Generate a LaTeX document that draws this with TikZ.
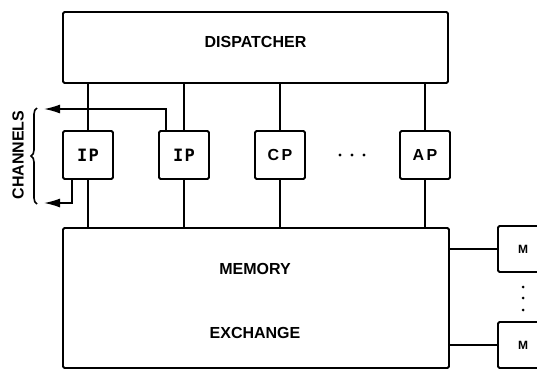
\documentclass[tikz,border=0pt]{standalone}
\usepackage{fontspec}
\setmainfont{Liberation Sans}
\newfontfamily\monofont{DejaVu Sans Mono}
\usetikzlibrary{arrows.meta,decorations.pathreplacing,calc}
\tikzset{
  box/.style={draw, line width=1.9pt, rounded corners=1.5pt, inner sep=0pt},
  proc/.style={box, minimum width=50pt, minimum height=48pt, font=\monofont\bfseries\fontsize{17}{17}\selectfont},
  mbox/.style={box, minimum width=50pt, minimum height=46pt, font=\bfseries\fontsize{12}{12}\selectfont},
  lbl/.style={font=\bfseries\fontsize{16}{16}\selectfont, inner sep=0pt},
  wire/.style={line width=1.5pt},
  chan/.style={wire, -{Latex[length=16pt,width=9pt]}},
  dot/.style={fill, circle, inner sep=0pt, minimum size=3.4pt}
}
\begin{document}
\begin{tikzpicture}[x=1pt,y=-1pt]
\useasboundingbox (0,0) rectangle (537,370);
\clip (0,0) rectangle (537,370);
% main boxes
\node[box, minimum width=385pt, minimum height=71pt] (disp) at (255.5,47.5) {};
\node[lbl] (disptxt) at (255.5,42) {DISPATCHER};
\node[box, minimum width=386pt, minimum height=140pt] (mem) at (256,298) {};
\node[lbl] (memtxt) at (255,269) {MEMORY};
\node[lbl] (exctxt) at (255,333) {EXCHANGE};
% processors
\node[proc] (ip1) at (88,155) {I\kern1.5pt P};
\node[proc] (ip2) at (184,155) {I\kern1.5pt P};
\node[proc, font=\bfseries\fontsize{16}{16}\selectfont] (cp) at (280,155) {C\kern2.5pt P};
\node[proc, font=\bfseries\fontsize{16}{16}\selectfont] (ap) at (425,155) {A\kern2.5pt P};
% dots between CP and AP
\node[dot] (d1) at (340,155) {};
\node[dot] (d2) at (352,155) {};
\node[dot] (d3) at (364,155) {};
% memory modules
\node[mbox] (m1) at (523,249) {M};
\node[mbox] (m2) at (523,345) {M};
\node[dot, minimum size=3pt] (v1) at (523,287) {};
\node[dot, minimum size=3pt] (v2) at (523,298) {};
\node[dot, minimum size=3pt] (v3) at (523,310) {};
% connectors dispatcher - processors - memory
\foreach \p in {ip1,ip2,cp,ap}{
  \draw[wire] (\p.north) -- (\p.north |- disp.south);
  \draw[wire] (\p.south) -- (\p.south |- mem.north);
}
% memory - modules
\draw[wire] (m1.west) -- (m1.west -| mem.east);
\draw[wire] (m2.west) -- (m2.west -| mem.east);
% channels
\coordinate (c1) at (44,109);
\coordinate (c2) at (44,203);
\coordinate (ip2out) at ($(ip2.north west)+(8,0)$);
\coordinate (ip1out) at ($(ip1.south west)+(10,0)$);
\draw[chan] (ip2out) |- (c1);
\draw[chan] (ip1out) |- (c2);
% brace and label
\coordinate (b1) at (37,204);
\coordinate (b2) at (37,108);
\draw[line width=1.6pt, decorate, decoration={brace, amplitude=6pt}] (b1) -- (b2);
\node[lbl, rotate=90, font=\bfseries\fontsize{16}{16}\selectfont] (chtxt) at (18,155) {CHANNELS};
\end{tikzpicture}
\end{document}
